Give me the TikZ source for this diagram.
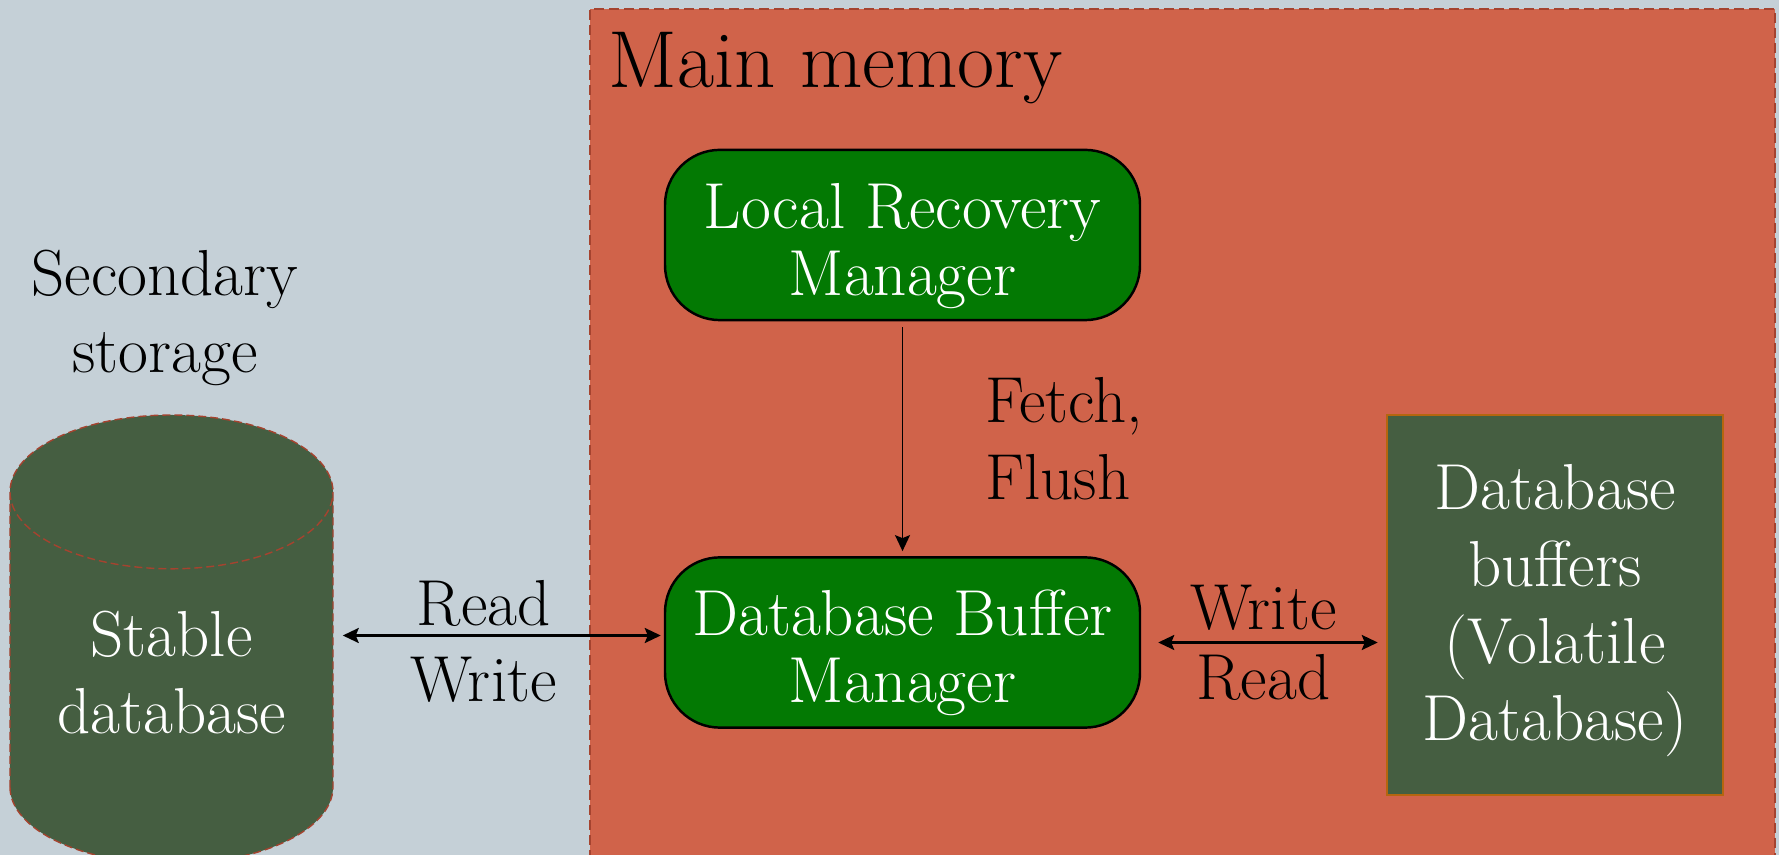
\documentclass[tikz,border=0pt]{standalone}
\usepackage{tikz}
\usetikzlibrary{shapes.geometric, arrows.meta, positioning, calc}

\definecolor{storagebg}{HTML}{C5D0D7}
\definecolor{memorybg}{HTML}{D0634A}
\definecolor{memoryedge}{HTML}{A5432F}
\definecolor{managergreen}{HTML}{037903}
\definecolor{dbgreen}{HTML}{455E41}
\definecolor{bufferedge}{HTML}{B4660F}

\begin{document}
\begin{tikzpicture}[x=1mm, y=1mm,
    txt/.style={font=\fontsize{18.5}{22}\selectfont, align=center},
    manager/.style={txt, font=\fontsize{18.5}{19}\selectfont, text height=38pt,
        draw=black, line width=0.7pt, fill=managergreen, text=white,
        rounded corners=5.5mm, minimum width=47.5mm, minimum height=16.6mm},
    twoway/.style={line width=0.7pt, {Stealth[length=1.6mm,width=1.5mm,inset=0.3mm]}-{Stealth[length=1.6mm,width=1.5mm,inset=0.3mm]}},
    oneway/.style={line width=0.5pt, -{Stealth[length=1.6mm,width=1.5mm,inset=0.3mm]}}
]
    % Secondary storage (background)
    \useasboundingbox (0,0) rectangle (177.9,85.5);
    \fill[storagebg] (0,0) rectangle (177.9,85.5);

    \begin{scope}
    \clip (0,0) rectangle (177.9,85.5);
    % Main memory
    \draw[memoryedge, fill=memorybg, line width=0.4pt, dash pattern=on 1mm off 0.5mm] (59.0,-2) rectangle (177.5,84.6);
    % Stable database
    \node[cylinder, shape border rotate=90, aspect=0.61, draw=memoryedge, fill=dbgreen,
        dash pattern=on 0.8mm off 0.4mm, line width=0.4pt, txt, text=white, text height=23.4pt,
        minimum width=32.3mm, minimum height=44.9mm, anchor=shape center]
        (stable) at (17.15,21.55) {Stable\\database};
    \end{scope}

    \node[txt, anchor=base west, font=\fontsize{23}{27}\selectfont] (mainlabel) at (59.6,76.7) {Main memory};
    \node[txt] (secondary) at (16.5,53.7) {Secondary\\storage};

    % Managers
    \node[manager] (lrm) at (90.25,62.0) {Local Recovery\\Manager};
    \node[manager] (dbm) at (90.25,21.25) {Database Buffer\\Manager};

    % Database buffers
    \node[txt, text height=82pt, draw=bufferedge, line width=0.7pt, fill=dbgreen, text=white,
        minimum width=33.6mm, minimum height=38mm] (buffers) at (155.5,25.0)
        {Database\\buffers\\(Volatile\\Database)};

    % Connectors
    \draw[oneway, shorten <=0.6mm, shorten >=0.5mm] (lrm) -- node[txt, align=left, right=7mm] {Fetch,\\Flush} (dbm);
    \draw[twoway, shorten <=0.9mm, shorten >=0.3mm] ([yshift=0.7mm]dbm.west -| stable.east) --
        node[txt, above=-0.4mm, xshift=-1.5mm] {Read} node[txt, below=0.9mm, xshift=-1.5mm] {Write} ([yshift=0.7mm]dbm.west);
    \draw[twoway, shorten <=1.7mm, shorten >=0.8mm] (dbm.east) --
        node[txt, above=-0.1mm] {Write} node[txt, below=-0.15mm] {Read} (dbm.east -| buffers.west);
\end{tikzpicture}
\end{document}
